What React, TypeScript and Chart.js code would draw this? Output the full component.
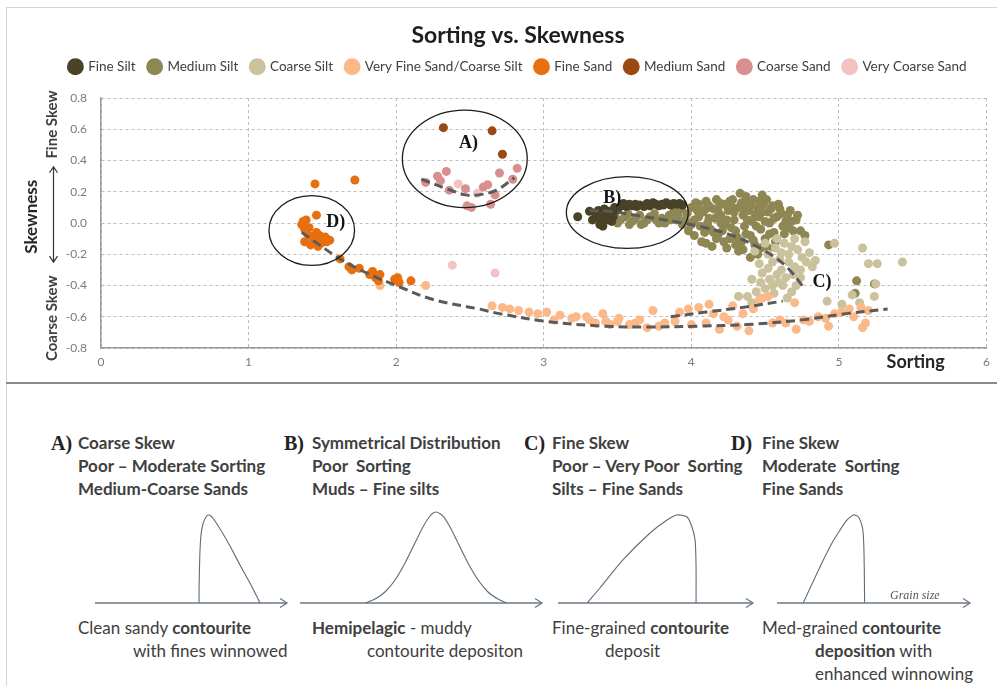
import React, { useEffect, useRef } from "react";
import { Chart, registerables } from "chart.js";

Chart.register(...registerables);

type P = { x: number; y: number };
const pts = (a: number[][]): P[] => a.map(([x, y]) => ({ x, y }));

const FONT = "Lato, 'Open Sans', sans-serif";
const SERIF = "'Liberation Serif', 'DejaVu Serif', serif";

// ---------- top chart data ----------
const chartTitle = "Sorting vs. Skewness";
const seriesLabels = [
  "Fine Silt",
  "Medium Silt",
  "Coarse Silt",
  "Very Fine Sand/Coarse Silt",
  "Fine Sand",
  "Medium Sand",
  "Coarse Sand",
  "Very Coarse Sand",
];
const seriesColors = ["#4a4226", "#8e8753", "#cac29c", "#fbb98a", "#e6700f", "#9a4912", "#d98f8f", "#f3c2c3"];
const seriesOrder = [3, 5, 4, 2, 1, 1, 1, 1];

const fineSilt = [
  [3.23, 0.04], [3.31, 0.075], [3.35, 0.065], [3.38, 0.03], [3.39, 0.0], [3.42, 0.05], [3.43, 0.02],
  [3.44, 0.075], [3.47, 0.04], [3.40, -0.02], [3.50, 0.085], [3.53, 0.11], [3.56, 0.105], [3.60, 0.11],
  [3.65, 0.115], [3.68, 0.105], [3.72, 0.11], [3.74, 0.13], [3.78, 0.11], [3.83, 0.13], [3.86, 0.115],
  [3.90, 0.12], [3.94, 0.115], [3.46, 0.01], [3.36, 0.04], [3.62, 0.12], [3.54, 0.125], [3.80, 0.12],
  [3.33, 0.02], [3.37, 0.08], [3.41, 0.09], [3.48, 0.10], [3.58, 0.12], [3.63, 0.105], [3.70, 0.125],
  [3.76, 0.12], [3.81, 0.115], [3.88, 0.125], [3.92, 0.125], [3.45, 0.06], [3.38, -0.01],
];
const mediumSilt = [
  [3.48, 0.05], [3.50, 0.0], [3.55, 0.04], [3.58, -0.01], [3.60, 0.01], [3.65, 0.05], [3.68, 0.0],
  [3.70, 0.02], [3.75, 0.06], [3.78, 0.0], [3.80, 0.03], [3.85, 0.05], [3.88, 0.07], [3.90, 0.02],
  [3.93, 0.09], [3.97, 0.06], [4.00, 0.10], [4.02, 0.02], [4.05, 0.12], [4.06, -0.02], [4.08, 0.07],
  [4.10, 0.14], [4.12, 0.03], [4.13, -0.04], [4.15, 0.09], [4.17, 0.15], [4.18, -0.08], [4.20, 0.05],
  [4.22, 0.12], [4.23, -0.01], [4.25, 0.08], [4.26, -0.10], [4.28, 0.15], [4.29, 0.02], [4.30, -0.05],
  [4.32, 0.10], [4.33, 0.19], [4.34, -0.12], [4.35, 0.05], [4.36, -0.02], [4.38, 0.13], [4.39, 0.08],
  [4.40, -0.08], [4.41, 0.01], [4.42, 0.15], [4.43, -0.14], [4.45, 0.10], [4.46, 0.04], [4.47, -0.04],
  [4.48, 0.18], [4.49, 0.12], [4.50, -0.10], [4.52, 0.07], [4.53, 0.0], [4.55, 0.11], [4.56, -0.06],
  [4.58, 0.04], [4.60, 0.09], [4.62, -0.02], [4.65, 0.05], [4.68, 0.01], [4.71, 0.02], [4.74, -0.05],
  [4.77, -0.08], [4.10, 0.09], [4.20, 0.0], [4.27, 0.11], [4.37, 0.17], [4.44, 0.06], [4.30, -0.14],
  [4.15, -0.06], [4.05, 0.04], [4.00, -0.01], [4.22, -0.12], [4.35, -0.17], [4.45, -0.20], [4.52, -0.16],
  [4.40, -0.22], [4.93, -0.14], [5.12, -0.37], [5.24, -0.39], [5.11, -0.45],
  [3.98, -0.05], [4.02, -0.08], [4.04, 0.08], [4.07, -0.12], [4.09, -0.06], [4.11, 0.0], [4.12, 0.11],
  [4.14, -0.15], [4.16, 0.03], [4.17, -0.10], [4.19, 0.13], [4.21, -0.05], [4.24, 0.02], [4.24, -0.16],
  [4.26, 0.14], [4.27, -0.03], [4.29, 0.07], [4.31, -0.09], [4.32, -0.18], [4.34, 0.13], [4.36, 0.08],
  [4.37, -0.07], [4.38, 0.02], [4.40, 0.11], [4.42, -0.11], [4.43, 0.04], [4.44, -0.02], [4.46, 0.14],
  [4.47, -0.16], [4.48, 0.07], [4.50, 0.01], [4.51, 0.15], [4.53, -0.07], [4.54, 0.09], [4.56, 0.03],
  [4.57, -0.12], [4.59, 0.12], [4.61, 0.06], [4.63, -0.07], [4.64, 0.01], [4.66, -0.03], [4.67, 0.08],
  [4.69, -0.05], [4.72, 0.05], [4.10, -0.13], [4.03, 0.13], [3.96, 0.02], [4.18, 0.08],
  [3.52, 0.02], [3.57, 0.06], [3.62, 0.03], [3.66, -0.01], [3.72, 0.04], [3.76, 0.02], [3.82, 0.0],
  [3.86, 0.02], [3.91, 0.05], [3.94, -0.01],
];
const coarseSilt = [
  [4.50, -0.13], [4.61, -0.19], [4.68, -0.15], [4.80, -0.19], [4.84, -0.24], [4.41, -0.36], [4.53, -0.36],
  [4.58, -0.33], [4.65, -0.48], [4.71, -0.40], [4.61, -0.30], [4.50, -0.42], [4.46, -0.26], [4.55, -0.25],
  [4.66, -0.25], [4.74, -0.30], [4.56, -0.45], [4.62, -0.40], [4.75, -0.22], [4.70, -0.10], [4.58, -0.10],
  [4.43, -0.18], [4.48, -0.32], [4.38, -0.47], [4.32, -0.47], [4.41, -0.51], [4.55, -0.40], [5.09, -0.46],
  [5.14, -0.51], [5.24, -0.47], [5.25, -0.39], [5.02, -0.52], [5.16, -0.16], [4.92, -0.50], [4.97, -0.13],
  [5.20, -0.26], [5.26, -0.26], [5.43, -0.25],
  [4.52, -0.20], [4.57, -0.16], [4.63, -0.13], [4.66, -0.20], [4.72, -0.17], [4.77, -0.12], [4.78, -0.25],
  [4.70, -0.28], [4.64, -0.35], [4.68, -0.44], [4.59, -0.38], [4.52, -0.29], [4.47, -0.38], [4.44, -0.44],
  [4.60, -0.23], [4.74, -0.35], [4.69, -0.33], [4.82, -0.28],
];
const veryFineSand = [
  [1.89, -0.40], [2.20, -0.40], [2.65, -0.53], [2.72, -0.54], [2.77, -0.55], [2.83, -0.56], [2.96, -0.58],
  [3.02, -0.57], [3.11, -0.59], [3.19, -0.61], [3.22, -0.60], [3.29, -0.60], [3.31, -0.62], [3.40, -0.58],
  [3.42, -0.63], [3.50, -0.63], [3.51, -0.61], [3.58, -0.65], [3.62, -0.64], [3.65, -0.62], [3.74, -0.56],
  [3.78, -0.66], [3.82, -0.64], [3.89, -0.63], [3.92, -0.57], [3.98, -0.55], [4.00, -0.65], [4.05, -0.54],
  [4.10, -0.64], [4.12, -0.52], [4.19, -0.68], [4.22, -0.60], [4.28, -0.53], [4.31, -0.66], [4.35, -0.58],
  [4.39, -0.69], [4.46, -0.49], [4.48, -0.48], [4.52, -0.47], [4.55, -0.64], [4.60, -0.62], [4.64, -0.64],
  [4.70, -0.51], [4.71, -0.68], [4.76, -0.62], [4.80, -0.63], [4.86, -0.60], [4.91, -0.61], [4.93, -0.66],
  [4.97, -0.58], [5.02, -0.57], [5.07, -0.55], [5.10, -0.60], [5.15, -0.54], [5.18, -0.64], [5.16, -0.67],
  [5.20, -0.56], [3.07, -0.62], [2.90, -0.57], [3.35, -0.64], [3.70, -0.67], [3.45, -0.65], [4.15, -0.58],
  [4.25, -0.62], [4.42, -0.55],
];
const fineSand = [
  [1.45, 0.25], [1.72, 0.275], [1.46, 0.05], [1.37, 0.01], [1.39, 0.02], [1.36, -0.01], [1.38, -0.04],
  [1.41, -0.03], [1.40, -0.07], [1.43, -0.09], [1.46, -0.06], [1.48, -0.08], [1.50, -0.10], [1.52, -0.09],
  [1.45, -0.12], [1.49, -0.13], [1.53, -0.12], [1.42, -0.14], [1.47, -0.15], [1.55, -0.11], [1.38, -0.12],
  [1.62, -0.23], [1.68, -0.28], [1.70, -0.30], [1.75, -0.29], [1.82, -0.33], [1.86, -0.35], [1.89, -0.33],
  [1.88, -0.37], [1.99, -0.36], [2.02, -0.38], [2.01, -0.35], [2.10, -0.37], [1.84, -0.31],
];
const mediumSand = [[2.32, 0.61], [2.65, 0.59], [2.72, 0.44]];
const coarseSand = [
  [2.20, 0.26], [2.28, 0.30], [2.34, 0.33], [2.30, 0.27], [2.36, 0.21], [2.47, 0.22], [2.48, 0.11],
  [2.51, 0.10], [2.59, 0.23], [2.62, 0.245], [2.64, 0.12], [2.67, 0.18], [2.70, 0.32], [2.79, 0.28],
  [2.82, 0.35],
];
const veryCoarseSand = [[2.38, -0.27], [2.67, -0.32], [2.42, 0.25], [2.55, 0.19]];

const seriesData = [fineSilt, mediumSilt, coarseSilt, veryFineSand, fineSand, mediumSand, coarseSand, veryCoarseSand];

const trendA = [[2.17, 0.28], [2.34, 0.22], [2.47, 0.18], [2.56, 0.18], [2.68, 0.21], [2.80, 0.29]];
const trendMain = [
  [1.36, -0.06], [1.48, -0.14], [1.62, -0.23], [1.80, -0.32], [2.00, -0.40], [2.25, -0.49], [2.56, -0.55],
  [2.70, -0.58], [3.02, -0.63], [3.40, -0.66], [3.70, -0.666], [4.05, -0.66], [4.38, -0.65], [4.75, -0.62],
  [5.05, -0.58], [5.33, -0.55],
];
const trendUpper = [[3.86, -0.60], [4.10, -0.57], [4.35, -0.54], [4.62, -0.50]];
const trendBC = [
  [3.31, 0.08], [3.44, 0.075], [3.67, 0.043], [3.94, 0.0], [4.05, -0.02], [4.28, -0.08], [4.50, -0.18],
  [4.64, -0.275], [4.76, -0.41],
];
const trendLines = [trendA, trendMain, trendUpper, trendBC];

// groups circled on the chart (value space)
const ellipseCx = [2.465, 3.566, 1.428];
const ellipseCy = [0.411, 0.067, -0.048];
const ellipseRx = [0.423, 0.413, 0.29];
const ellipseRy = [0.312, 0.23, 0.223];
const groupText = ["A)", "B)", "C)", "D)"];
const groupX = [2.49, 3.464, 4.885, 1.59];
const groupY = [0.507, 0.159, -0.382, 0.006];

const xAxisName = "Sorting";
const yAxisName = "Skewness";
const ySideTop = "Fine Skew";
const ySideBottom = "Coarse Skew";

// ---------- lower panel: grain size distribution sketches ----------
const curveA = [
  [5.42, 0], [5.42, 0.143], [5.44, 0.363], [5.47, 0.582], [5.52, 0.747], [5.62, 0.868], [5.78, 0.945],
  [5.89, 0.967], [6.04, 0.956], [6.25, 0.901], [6.61, 0.78], [7.03, 0.626], [7.55, 0.418], [8.07, 0.22],
  [8.44, 0.066], [8.59, 0],
];
const curveB = [
  [2.69, 0], [3.10, 0.044], [3.51, 0.121], [3.93, 0.253], [4.34, 0.44], [4.75, 0.659], [5.08, 0.835],
  [5.37, 0.956], [5.62, 1.0], [5.91, 0.956], [6.20, 0.835], [6.53, 0.659], [6.94, 0.44], [7.36, 0.253],
  [7.77, 0.121], [8.18, 0.044], [8.55, 0],
];
const curveC = [
  [1.49, 0], [2.15, 0.165], [3.33, 0.473], [4.72, 0.769], [5.59, 0.912], [6.10, 0.967], [6.62, 0.945],
  [6.87, 0.835], [7.03, 0.692], [7.08, 0.40], [7.08, 0],
];
const curveD = [
  [1.36, 0], [1.88, 0.24], [2.40, 0.473], [2.85, 0.66], [3.26, 0.80], [3.62, 0.91], [3.95, 0.967],
  [4.18, 0.955], [4.33, 0.90], [4.45, 0.80], [4.50, 0.62], [4.52, 0.40], [4.54, 0],
];
const baseline = [[0, 0], [10, 0]];
const curves = [curveA, curveB, curveC, curveD];
const panelLeft = [95, 300, 558, 777];
const panelWidth = [192, 242, 195, 193];

const panelLetters = ["A)", "B)", "C)", "D)"];
const letterX = [51, 284, 524, 731];
const headX = [78, 312, 552, 762];
const headLines = [
  ["Coarse Skew", "Poor \u2013 Moderate Sorting", "Medium-Coarse Sands"],
  ["Symmetrical Distribution", "Poor  Sorting", "Muds \u2013 Fine silts"],
  ["Fine Skew", "Poor \u2013 Very Poor  Sorting", "Silts \u2013 Fine Sands"],
  ["Fine Skew", "Moderate  Sorting", "Fine Sands"],
];
const headY = [443, 466, 489];

const TEXT = "#404040";
const AXIS_SK = "#6d7986";

const decorPlugin = {
  id: "decor",
  afterDatasetsDraw(chart: any) {
    const { ctx, scales } = chart;
    const x = scales.x;
    const y = scales.y;
    ctx.save();
    ctx.strokeStyle = "#1c1c1c";
    ctx.lineWidth = 1.3;
    for (let i = 0; i < ellipseCx.length; i++) {
      const cx = x.getPixelForValue(ellipseCx[i]);
      const cy = y.getPixelForValue(ellipseCy[i]);
      const rx = Math.abs(x.getPixelForValue(ellipseCx[i] + ellipseRx[i]) - cx);
      const ry = Math.abs(y.getPixelForValue(ellipseCy[i] + ellipseRy[i]) - cy);
      ctx.beginPath();
      ctx.ellipse(cx, cy, rx, ry, 0, 0, Math.PI * 2);
      ctx.stroke();
    }
    ctx.fillStyle = "#141414";
    ctx.font = `bold 18px ${SERIF}`;
    ctx.textAlign = "center";
    ctx.textBaseline = "middle";
    for (let i = 0; i < groupText.length; i++) {
      ctx.fillText(groupText[i], x.getPixelForValue(groupX[i]), y.getPixelForValue(groupY[i]));
    }
    ctx.restore();
  },
  afterDraw(chart: any) {
    const { ctx, scales, chartArea } = chart;
    const x = scales.x;
    const y = scales.y;
    ctx.save();
    ctx.fillStyle = "#262626";
    ctx.textAlign = "center";
    ctx.textBaseline = "middle";
    ctx.font = `bold 18px ${FONT}`;
    ctx.fillText(xAxisName, x.getPixelForValue(5.52), chartArea.bottom + 14);

    const rot = (t: string, px: number, py: number, font: string, color: string) => {
      ctx.save();
      ctx.translate(px, py);
      ctx.rotate(-Math.PI / 2);
      ctx.font = font;
      ctx.fillStyle = color;
      ctx.fillText(t, 0, 0);
      ctx.restore();
    };
    const L = chartArea.left;
    rot(yAxisName, L - 69, y.getPixelForValue(0.04), `bold 17px ${FONT}`, "#262626");
    rot(ySideTop, L - 49, y.getPixelForValue(0.63), `bold 15px ${FONT}`, TEXT);
    rot(ySideBottom, L - 49, y.getPixelForValue(-0.61), `bold 15px ${FONT}`, TEXT);

    // double arrow
    const ax = L - 47.5;
    const y1 = y.getPixelForValue(0.36);
    const y2 = y.getPixelForValue(-0.25);
    ctx.strokeStyle = "#333";
    ctx.lineWidth = 1.2;
    ctx.beginPath();
    ctx.moveTo(ax, y1);
    ctx.lineTo(ax, y2);
    ctx.moveTo(ax - 4, y1 + 6);
    ctx.lineTo(ax, y1);
    ctx.lineTo(ax + 4, y1 + 6);
    ctx.moveTo(ax - 4, y2 - 6);
    ctx.lineTo(ax, y2);
    ctx.lineTo(ax + 4, y2 - 6);
    ctx.stroke();
    ctx.restore();
  },
};

const arrowPlugin = {
  id: "arrowHead",
  afterDatasetsDraw(chart: any) {
    const { ctx, scales } = chart;
    const ex = scales.x.getPixelForValue(10);
    const ey = scales.y.getPixelForValue(0);
    ctx.save();
    ctx.strokeStyle = AXIS_SK;
    ctx.lineWidth = 1.3;
    ctx.beginPath();
    ctx.moveTo(ex - 7, ey - 4.5);
    ctx.lineTo(ex, ey);
    ctx.lineTo(ex - 7, ey + 4.5);
    ctx.stroke();
    ctx.restore();
  },
};

export default function App() {
  const topRef = useRef<HTMLCanvasElement | null>(null);
  const curveRefs = useRef<(HTMLCanvasElement | null)[]>([]);

  useEffect(() => {
    const charts: Chart[] = [];
    if (topRef.current) {
      const datasets: any[] = seriesData.map((d, i) => ({
        type: "scatter",
        label: seriesLabels[i],
        data: pts(d),
        backgroundColor: seriesColors[i],
        borderColor: seriesColors[i],
        pointRadius: 4.5,
        pointBorderWidth: 0,
        order: seriesOrder[i],
      }));
      trendLines.forEach((t, i) => {
        datasets.push({
          type: "line",
          label: "trend" + i,
          data: pts(t),
          borderColor: "#5a5a5a",
          borderWidth: 3,
          borderDash: [9, 5],
          pointRadius: 0,
          tension: 0.35,
          fill: false,
          order: 0,
        });
      });
      charts.push(
        new Chart(topRef.current, {
          type: "scatter",
          data: { datasets },
          plugins: [decorPlugin],
          options: {
            animation: false,
            responsive: false,
            events: [],
            layout: { padding: { left: 47, right: 8, top: 0, bottom: 0 } },
            plugins: {
              title: {
                display: true,
                text: chartTitle,
                color: "#1e1e1e",
                font: { family: FONT, size: 23, weight: "bold", lineHeight: 1.0 },
                padding: { top: 24, bottom: 0 },
              },
              legend: {
                display: true,
                position: "top",
                labels: {
                  usePointStyle: true,
                  pointStyle: "circle",
                  boxWidth: 12,
                  boxHeight: 12,
                  padding: 13,
                  color: TEXT,
                  font: { family: FONT, size: 13.5 },
                  filter: (it: any) => it.datasetIndex < seriesLabels.length,
                  sort: (a: any, b: any) => a.datasetIndex - b.datasetIndex,
                },
              },
              tooltip: { enabled: false },
            },
            scales: {
              x: {
                type: "linear",
                min: 0,
                max: 6,
                ticks: { stepSize: 1, padding: 7, color: "#7a7a7a", font: { family: FONT, size: 12 } },
                grid: { color: "#bdbdbd", lineWidth: 1, drawTicks: false },
                border: { display: true, color: "#9a9a9a", width: 1.5, dash: [3, 3] },
                afterFit: (s: any) => {
                  s.height = 34;
                },
              },
              y: {
                type: "linear",
                min: -0.8,
                max: 0.8,
                ticks: {
                  stepSize: 0.2,
                  padding: 14,
                  color: "#7a7a7a",
                  font: { family: FONT, size: 12 },
                  callback: (v: any) => (Math.abs(v) < 1e-9 ? "0.0" : Number(v).toFixed(1)),
                },
                grid: { color: "#bdbdbd", lineWidth: 1, drawTicks: false },
                border: { display: true, color: "#9a9a9a", width: 1.5, dash: [3, 3] },
                afterFit: (s: any) => {
                  s.width = 54;
                },
              },
              spacer: {
                type: "linear",
                position: "top",
                display: true,
                grid: { display: false },
                ticks: { display: false },
                border: { display: false },
                afterFit: (s: any) => {
                  s.height = 14.5;
                },
              },
            } as any,
          },
        } as any)
      );
    }
    curves.forEach((c, i) => {
      const cv = curveRefs.current[i];
      if (!cv) return;
      charts.push(
        new Chart(cv, {
          type: "scatter",
          data: {
            datasets: [
              {
                label: "axis",
                data: pts(baseline),
                showLine: true,
                borderColor: AXIS_SK,
                borderWidth: 1.5,
                pointRadius: 0,
                clip: false,
              } as any,
              {
                label: "distribution",
                data: pts(c),
                showLine: true,
                borderColor: "#5f6b78",
                borderWidth: 1.1,
                pointRadius: 0,
                tension: 0.25,
                clip: false,
              } as any,
            ],
          },
          plugins: [arrowPlugin],
          options: {
            animation: false,
            responsive: false,
            events: [],
            layout: { padding: { top: 5, bottom: 5, left: 0, right: 2 } },
            plugins: { legend: { display: false }, title: { display: false }, tooltip: { enabled: false } },
            scales: {
              x: { type: "linear", min: 0, max: 10, display: false },
              y: { type: "linear", min: 0, max: 1, display: false },
            },
          },
        } as any)
      );
    });
    return () => charts.forEach((c) => c.destroy());
  }, []);

  const line = (left: number, cy: number, content: React.ReactNode, key: string, extra: React.CSSProperties = {}) => (
    <div
      key={key}
      style={{
        position: "absolute",
        left,
        top: cy - 11,
        height: 22,
        lineHeight: "22px",
        whiteSpace: "pre",
        fontFamily: FONT,
        fontSize: 17,
        color: TEXT,
        ...extra,
      }}
    >
      {content}
    </div>
  );

  const b = (t: string) => <b style={{ fontWeight: 700 }}>{t}</b>;

  return (
    <div style={{ position: "absolute", left: 0, top: 0, width: 997, height: 686, background: "#fff", overflow: "hidden" }}>
      <div style={{ position: "absolute", left: 6, top: 7, width: 991, height: 679, borderTop: "1px solid #d4d4d4", borderLeft: "1px solid #d4d4d4" }} />
      <canvas ref={topRef} width={997} height={382} style={{ position: "absolute", left: 0, top: 0, width: 997, height: 382 }} />
      <div style={{ position: "absolute", left: 6, top: 382, width: 991, height: 2, background: "#8a8a8a" }} />

      {panelLetters.map((l, i) =>
        line(letterX[i], headY[0], l, "L" + i, { fontFamily: SERIF, fontWeight: 700, fontSize: 20, color: "#222" })
      )}
      {headLines.map((ls, i) => ls.map((t, j) => line(headX[i], headY[j], t, `h${i}-${j}`, { fontWeight: 700 })))}

      {curves.map((_, i) => (
        <canvas
          key={"c" + i}
          ref={(el) => {
            curveRefs.current[i] = el;
          }}
          width={panelWidth[i] + 2}
          height={101}
          style={{ position: "absolute", left: panelLeft[i], top: 507, width: panelWidth[i] + 2, height: 101 }}
        />
      ))}
      <div style={{ position: "absolute", left: 890, top: 588, fontFamily: SERIF, fontStyle: "italic", fontSize: 12, color: "#555", whiteSpace: "nowrap" }}>
        Grain size
      </div>

      {line(78, 628, <>Clean sandy {b("contourite")}</>, "f1")}
      {line(133, 651, "with fines winnowed", "f2")}
      {line(312, 628, <>{b("Hemipelagic")} - muddy</>, "f3")}
      {line(367, 651, "contourite depositon", "f4")}
      {line(552, 628, <>Fine-grained {b("contourite")}</>, "f5")}
      {line(605, 651, "deposit", "f6")}
      {line(762, 628, <>Med-grained {b("contourite")}</>, "f7")}
      {line(815, 651, <>{b("deposition")} with</>, "f8")}
      {line(815, 674, "enhanced winnowing", "f9")}
    </div>
  );
}
